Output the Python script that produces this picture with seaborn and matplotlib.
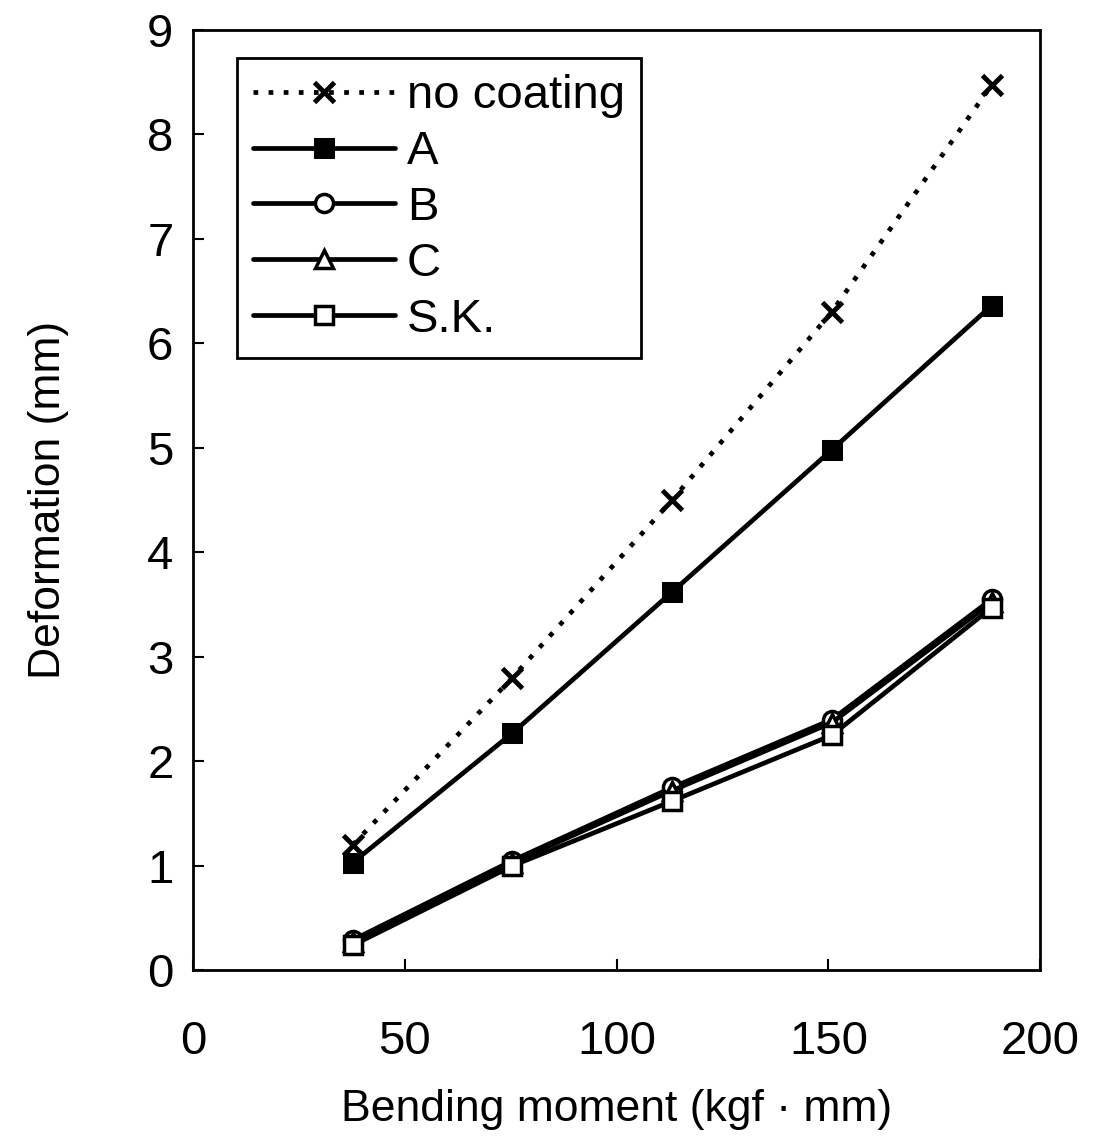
import matplotlib
matplotlib.use("Agg")
import matplotlib.pyplot as plt
import seaborn as sns
import pandas as pd

moment = [37.7, 75.4, 113.1, 150.8, 188.5]
no_coating = [1.20, 2.80, 4.50, 6.30, 8.47]
coat_A = [1.03, 2.27, 3.62, 4.98, 6.36]
coat_B = [0.29, 1.05, 1.75, 2.40, 3.55]
coat_C = [0.27, 1.03, 1.72, 2.37, 3.52]
coat_SK = [0.24, 1.00, 1.62, 2.25, 3.47]

series = [
    ("no coating", no_coating, dict(marker="x", linestyle=(0, (1, 2.2)), markersize=14, markeredgewidth=3.5, markerfacecolor="black")),
    ("A", coat_A, dict(marker="s", linestyle="-", markersize=15, markerfacecolor="black")),
    ("B", coat_B, dict(marker="o", linestyle="-", markersize=13, markerfacecolor="white", markeredgewidth=2.5)),
    ("C", coat_C, dict(marker="^", linestyle="-", markersize=13, markerfacecolor="white", markeredgewidth=2.5)),
    ("S.K.", coat_SK, dict(marker="s", linestyle="-", markersize=13, markerfacecolor="white", markeredgewidth=2.5)),
]

sns.set_theme(style="ticks")
plt.rcParams["font.family"] = ["Liberation Sans", "DejaVu Sans"]
plt.rcParams["text.color"] = "black"
plt.rcParams["axes.labelcolor"] = "black"

fig = plt.figure(figsize=(11.02, 11.39), dpi=100)
ax = fig.add_axes([0.175, 0.148, 0.769, 0.826])

for name, vals, kw in series:
    df = pd.DataFrame({"x": moment, "y": vals})
    sns.lineplot(data=df, x="x", y="y", ax=ax, color="black", linewidth=3.4,
                 markeredgecolor="black", label=name, **kw)

ax.set_xlim(0, 200)
ax.set_ylim(0, 9)
ax.set_xticks([0, 50, 100, 150, 200])
ax.set_yticks(range(0, 10))
ax.tick_params(direction="in", length=8, width=1.5, labelsize=34, colors="black")
ax.tick_params(axis="x", pad=36)
ax.tick_params(axis="y", pad=14)
ax.set_xlabel("Bending moment (kgf \u00b7 mm)", fontsize=32, labelpad=18, color="black")
ax.set_ylabel("Deformation (mm)", fontsize=32, labelpad=56, color="black")
for s in ax.spines.values():
    s.set_linewidth(2)
    s.set_color("black")

leg = ax.legend(loc="upper left", bbox_to_anchor=(0.052, 0.970), borderaxespad=0,
                fontsize=34, frameon=True, fancybox=False, edgecolor="black", framealpha=1,
                handlelength=3.0, handletextpad=0.25, labelspacing=0.25, borderpad=0.35)
leg.get_frame().set_linewidth(2)
leg.get_frame().set_edgecolor("black")
for t in leg.get_texts():
    t.set_color("black")

fig.savefig("out.png", dpi=100)
